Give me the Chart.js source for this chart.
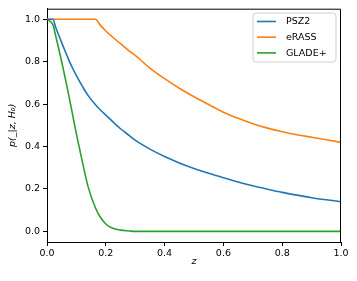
<!DOCTYPE html>
<html>
<head>
<meta charset="utf-8">
<script src="https://cdn.jsdelivr.net/npm/chart.js@4/dist/chart.umd.min.js"></script>
<style>
  html, body { margin: 0; padding: 0; background: #fff; }
  #wrap { width: 357px; height: 281px; }
</style>
</head>
<body>
<div id="wrap"><canvas id="pChart" width="357" height="281"></canvas></div>
<script>
// redshift grid and the three curves
const zValues = [0, 0.02, 0.03, 0.04, 0.05, 0.06, 0.07, 0.08, 0.09, 0.10, 0.12, 0.14, 0.165,
    0.18, 0.20, 0.22, 0.25, 0.28, 0.30, 0.35, 0.40, 0.45, 0.50, 0.55, 0.60, 0.65, 0.70,
    0.75, 0.80, 0.85, 0.90, 0.95, 1.00];
const psz2 = [1, 1, 0.96, 0.925, 0.89, 0.855, 0.822, 0.79, 0.762, 0.735, 0.685, 0.64, 0.597,
    0.575, 0.548, 0.522, 0.484, 0.452, 0.43, 0.388, 0.353, 0.323, 0.297, 0.274, 0.253, 0.233, 0.215,
    0.199, 0.184, 0.171, 0.159, 0.149, 0.14];
const erass = [1, 1, 1, 1, 1, 1, 1, 1, 1, 1, 1, 1, 1,
    0.975, 0.945, 0.92, 0.885, 0.85, 0.83, 0.77, 0.72, 0.675, 0.635, 0.598, 0.562, 0.533, 0.508,
    0.487, 0.47, 0.456, 0.444, 0.432, 0.42];
const gladePlus = [1, 0.975, 0.92, 0.86, 0.8, 0.735, 0.67, 0.6, 0.53, 0.46, 0.33, 0.21, 0.11,
    0.07, 0.035, 0.017, 0.006, 0.002, 0, 0, 0, 0, 0, 0, 0, 0, 0,
    0, 0, 0, 0, 0, 0];

const seriesNames = ['PSZ2', 'eRASS', 'GLADE+'];
const seriesColors = ['#1f77b4', '#ff7f0e', '#2ca02c'];
const xTicks = [0, 0.2, 0.4, 0.6, 0.8, 1.0];
const yTicks = [0, 0.2, 0.4, 0.6, 0.8, 1.0];

const tickFont = { family: 'DejaVu Sans', size: 9.5 };

const toPoints = ys => zValues.map((z, i) => ({ x: z, y: ys[i] }));

// top/right spines + legend box inside the plot, matplotlib style
const framePlugin = {
    id: 'frame',
    afterDraw(chart) {
        const { ctx, chartArea: a } = chart;
        ctx.save();
        ctx.strokeStyle = '#000';
        ctx.lineWidth = 1;
        ctx.beginPath();
        ctx.moveTo(a.left, a.top + 0.5);
        ctx.lineTo(a.right - 0.5, a.top + 0.5);
        ctx.lineTo(a.right - 0.5, a.bottom);
        ctx.stroke();

        // legend
        const bx = 253, by = 13, bw = 83, bh = 49, r = 3;
        ctx.beginPath();
        ctx.moveTo(bx + r, by);
        ctx.arcTo(bx + bw, by, bx + bw, by + bh, r);
        ctx.arcTo(bx + bw, by + bh, bx, by + bh, r);
        ctx.arcTo(bx, by + bh, bx, by, r);
        ctx.arcTo(bx, by, bx + bw, by, r);
        ctx.closePath();
        ctx.fillStyle = 'rgba(255,255,255,0.8)';
        ctx.fill();
        ctx.strokeStyle = '#d0d0d0';
        ctx.stroke();

        ctx.font = '9.5px "DejaVu Sans"';
        ctx.textBaseline = 'middle';
        ctx.textAlign = 'left';
        seriesNames.forEach((name, i) => {
            const y = 21.5 + i * 15.7;
            ctx.strokeStyle = seriesColors[i];
            ctx.lineWidth = 1.6;
            ctx.beginPath();
            ctx.moveTo(257, y);
            ctx.lineTo(276, y);
            ctx.stroke();
            ctx.fillStyle = '#000';
            ctx.fillText(name, 286, y + 0.5);
        });
        ctx.restore();
    }
};

new Chart(document.getElementById('pChart').getContext('2d'), {
    type: 'line',
    data: {
        datasets: [psz2, erass, gladePlus].map((ys, i) => ({
            label: seriesNames[i],
            data: toPoints(ys),
            borderColor: seriesColors[i],
            backgroundColor: seriesColors[i],
            borderWidth: 1.6,
            pointRadius: 0,
            cubicInterpolationMode: 'monotone',
            fill: false
        }))
    },
    options: {
        responsive: false,
        animation: false,
        layout: { padding: { left: 0, right: 16, top: 7, bottom: 0 } },
        plugins: {
            legend: { display: false },
            tooltip: { enabled: false }
        },
        scales: {
            x: {
                type: 'linear',
                min: 0,
                max: 1,
                afterBuildTicks: s => { s.ticks = xTicks.map(v => ({ value: v })); },
                afterFit: s => { s.height = 39; },
                grid: { drawOnChartArea: false, drawTicks: true, tickLength: 4, tickColor: '#000' },
                border: { display: true, color: '#000', width: 1 },
                ticks: { color: '#000', font: tickFont, padding: 2, maxRotation: 0,
                         callback: v => v.toFixed(1) },
                title: { display: true, text: 'z', color: '#000', padding: { top: 0, bottom: 14 },
                         font: { family: 'DejaVu Sans', size: 9.5, style: 'italic' } }
            },
            y: {
                min: -0.05,
                max: 1.05,
                afterBuildTicks: s => { s.ticks = yTicks.map(v => ({ value: v })); },
                afterFit: s => { s.width = 47; },
                grid: { drawOnChartArea: false, drawTicks: true, tickLength: 4, tickColor: '#000' },
                border: { display: true, color: '#000', width: 1 },
                ticks: { color: '#000', font: tickFont, padding: 3,
                         callback: v => v.toFixed(1) },
                title: { display: true, text: 'p(_|z, H₀)', color: '#000', padding: { top: 7, bottom: 0 },
                         font: { family: 'DejaVu Sans', size: 9.5, style: 'italic' } }
            }
        }
    },
    plugins: [framePlugin]
});
</script>
</body>
</html>
